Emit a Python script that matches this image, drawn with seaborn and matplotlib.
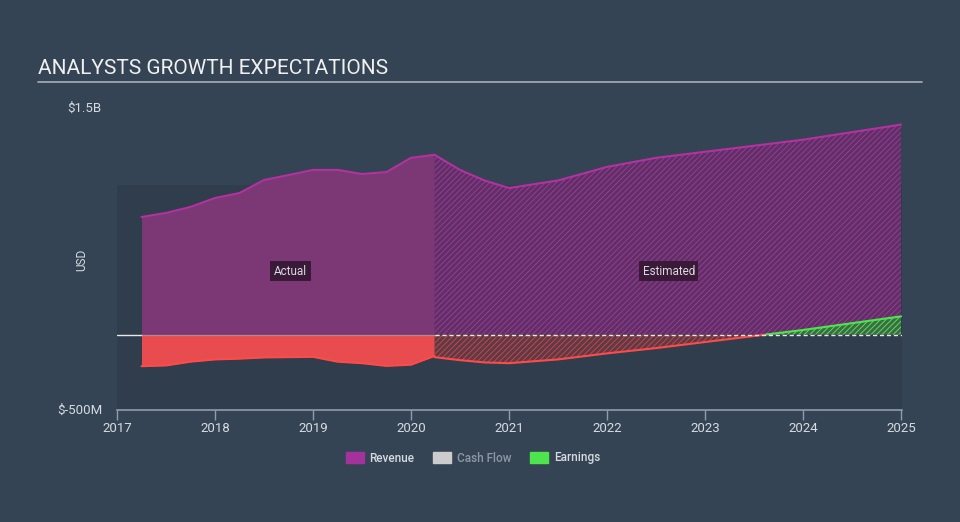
"""
Analysts growth expectations - revenue and earnings, actual vs estimated.
"""

import matplotlib
matplotlib.use("Agg")
import matplotlib.pyplot as plt
import matplotlib.patches as mpatches
import numpy as np
import pandas as pd
import seaborn as sns

# Datos (miles de millones USD)
anios_actual = [2017.25, 2017.5, 2017.75, 2018.0, 2018.25, 2018.5, 2018.75,
                2019.0, 2019.25, 2019.5, 2019.75, 2020.0, 2020.24]
ingresos_actual = [0.778, 0.805, 0.845, 0.904, 0.937, 1.023, 1.056,
                   1.090, 1.090, 1.063, 1.076, 1.170, 1.190]
ganancias_actual = [-0.210, -0.205, -0.180, -0.165, -0.160, -0.152, -0.150,
                    -0.148, -0.180, -0.190, -0.208, -0.200, -0.142]

anios_est = [2020.24, 2020.5, 2020.75, 2021.0, 2021.5, 2022.0, 2022.5,
             2023.0, 2023.5, 2024.0, 2024.5, 2025.0]
ingresos_est = [1.190, 1.090, 1.020, 0.970, 1.020, 1.110, 1.170,
                1.210, 1.250, 1.290, 1.340, 1.390]
ganancias_est = [-0.150, -0.170, -0.185, -0.190, -0.165, -0.125, -0.090,
                 -0.050, -0.010, 0.030, 0.075, 0.120]

anios_ticks = [2017, 2018, 2019, 2020, 2021, 2022, 2023, 2024, 2025]

# Colores
FONDO = "#344454"
FONDO_OSCURO = "#2f3d4c"
MORADO_RELLENO = "#7b3874"
MORADO_LINEA = "#b2329f"
ROJO_RELLENO = "#e84c4f"
ROJO_LINEA = "#ff4a4a"
VERDE = "#4ee44e"
TEXTO = "#d6dbe0"

sns.set_style("dark", {"axes.facecolor": FONDO, "figure.facecolor": FONDO})
plt.rcParams["font.family"] = ["Roboto", "DejaVu Sans"]
plt.rcParams["hatch.linewidth"] = 0.7

df_act = pd.DataFrame({"anio": anios_actual, "ingresos": ingresos_actual,
                       "ganancias": ganancias_actual})
df_est = pd.DataFrame({"anio": anios_est, "ingresos": ingresos_est,
                       "ganancias": ganancias_est})

fig = plt.figure(figsize=(9.6, 5.22), dpi=100)
ax = fig.add_axes([117 / 960, 1 - 410 / 522, 785 / 960, 302 / 522])
ax.set_facecolor(FONDO)

x_min, x_max = 2017.0, 2025.01
ax.set_xlim(x_min, x_max)
ax.set_ylim(-0.5, 1.5)

# Banda más oscura del área de datos
ax.add_patch(mpatches.Rectangle((x_min, -0.5), x_max - x_min, 1.49,
                                facecolor=FONDO_OSCURO, edgecolor="none", zorder=0))

# Área real
ax.fill_between(df_act["anio"], 0, df_act["ingresos"], color=MORADO_RELLENO,
                linewidth=0, zorder=2)
ax.fill_between(df_act["anio"], 0, df_act["ganancias"], color=ROJO_RELLENO,
                linewidth=0, zorder=2)
sns.lineplot(data=df_act, x="anio", y="ingresos", color=MORADO_LINEA, lw=1.5,
             ax=ax, zorder=3)
sns.lineplot(data=df_act, x="anio", y="ganancias", color=ROJO_LINEA, lw=1.5,
             ax=ax, zorder=3)

# Área estimada (rayada)
ax.fill_between(df_est["anio"], 0, df_est["ingresos"], facecolor="#5e3066",
                edgecolor="#9c3894", hatch="//////", linewidth=0, zorder=2)
g = np.array(ganancias_est)
ax.fill_between(df_est["anio"], 0, df_est["ganancias"], where=g <= 0, interpolate=True,
                facecolor="#5c3a46", edgecolor="#c84646", hatch="//////", linewidth=0, zorder=2)
ax.fill_between(df_est["anio"], 0, df_est["ganancias"], where=g >= 0, interpolate=True,
                facecolor="#3f6a48", edgecolor=VERDE, hatch="//////", linewidth=0, zorder=2)
sns.lineplot(data=df_est, x="anio", y="ingresos", color=MORADO_LINEA, lw=1.5,
             ax=ax, zorder=3)
# Ganancias estimadas: rojo si negativo, verde si positivo
ax.plot(df_est["anio"], np.where(g <= 0.0, g, np.nan), color=ROJO_LINEA, lw=1.5, zorder=3)
idx = np.where(g > 0)[0][0]
xc = anios_est[idx - 1] + (0 - g[idx - 1]) * (anios_est[idx] - anios_est[idx - 1]) / (g[idx] - g[idx - 1])
ax.plot([anios_est[idx - 1], xc], [g[idx - 1], 0], color=ROJO_LINEA, lw=1.5, zorder=3)
ax.plot([xc] + anios_est[idx:], [0] + list(g[idx:]), color=VERDE, lw=1.5, zorder=3)

# Línea de cero
ax.plot([x_min, anios_actual[0]], [0, 0], color="#e8e8e8", lw=1, zorder=4)
ax.plot([anios_actual[0], anios_actual[-1]], [0, 0], color="#b88a88", lw=0.9, zorder=4)
ax.plot([anios_actual[-1], x_max], [0, 0], color="#e8e8e8", lw=1, ls=(0, (3, 2)), zorder=4)

# Etiquetas Actual / Estimated
caja = dict(boxstyle="square,pad=0.3", facecolor="#3a1a38", edgecolor="none")
ax.text(2018.77, 0.42, "Actual", color=TEXTO, fontsize=8.5, ha="center", va="center",
        bbox=caja, zorder=5)
ax.text(2022.63, 0.42, "Estimated", color=TEXTO, fontsize=8.5, ha="center", va="center",
        bbox=caja, zorder=5)

# Ejes
for lado in ["top", "right", "left"]:
    ax.spines[lado].set_visible(False)
ax.spines["bottom"].set_color("#8f9cab")
ax.spines["bottom"].set_linewidth(1.2)
ax.set_xticks(anios_ticks)
ax.set_xticklabels([str(a) for a in anios_ticks])
ax.tick_params(axis="x", colors="#8f9cab", length=7, width=1, labelcolor=TEXTO,
               labelsize=9.5, pad=2, bottom=True)
ax.set_yticks([])
ax.set_xlabel("")
ax.set_ylabel("")
ax.grid(False)

fig.text(101 / 960, 1 - 108 / 522, "$1.5B", color=TEXTO, fontsize=9.5, ha="right", va="center")
fig.text(103 / 960, 1 - 410 / 522, "$-500M", color=TEXTO, fontsize=9.5, ha="right", va="center")
fig.text(82 / 960, 1 - 260 / 522, "USD", color=TEXTO, fontsize=8.5, rotation=90,
         ha="center", va="center")

# Título y línea
fig.text(38 / 960, 1 - 69 / 522, "ANALYSTS GROWTH EXPECTATIONS", color="#f0f0f0",
         fontsize=15, ha="left", va="center")
fig.add_artist(plt.Line2D([38 / 960, 922 / 960], [1 - 82 / 522, 1 - 82 / 522],
                          color="#a8b0b8", lw=1.2))

# Leyenda
manejadores = [mpatches.Patch(color="#a3329c", label="Revenue"),
               mpatches.Patch(color="#cccccc", label="Cash Flow"),
               mpatches.Patch(color=VERDE, label="Earnings")]
leg = fig.legend(handles=manejadores, loc="center", bbox_to_anchor=(473 / 960, 1 - 458 / 522),
                 ncol=3, frameon=False, prop={"size": 8.5, "weight": "medium"},
                 handlelength=1.5, handleheight=1.1, columnspacing=1.6, handletextpad=0.5)
for t, c in zip(leg.get_texts(), [TEXTO, "#8e98a3", TEXTO]):
    t.set_color(c)

fig.savefig("out.png", dpi=100, facecolor=FONDO)
